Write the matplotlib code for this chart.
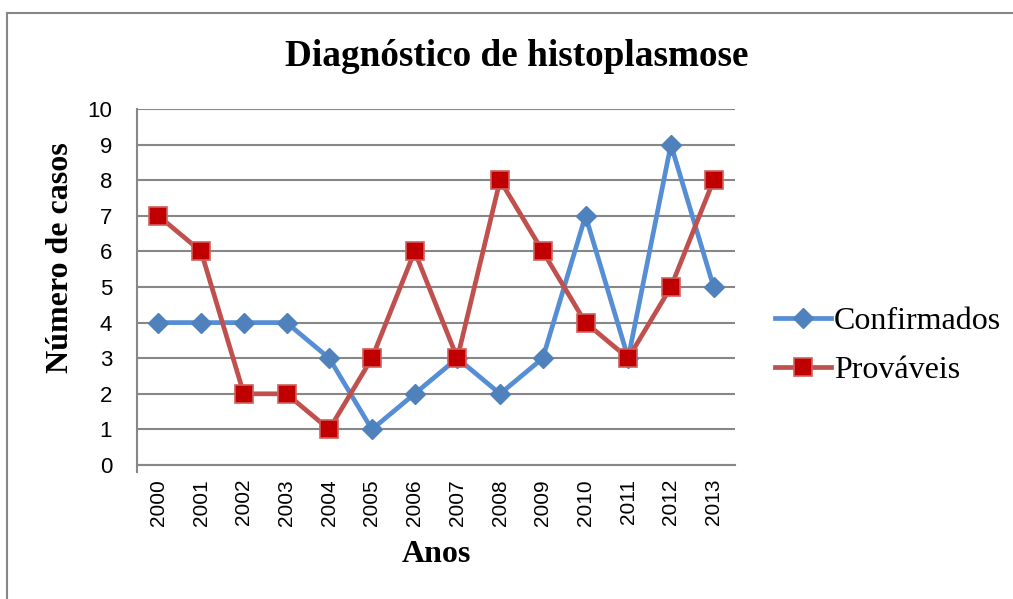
import numpy as np
import matplotlib
matplotlib.use("Agg")
from matplotlib import pyplot as plt
from matplotlib.lines import Line2D

anos = ['2000', '2001', '2002', '2003', '2004', '2005', '2006',
        '2007', '2008', '2009', '2010', '2011', '2012', '2013']
confirmados = [4, 4, 4, 4, 3, 1, 2, 3, 2, 3, 7, 3, 9, 5]
provaveis = [7, 6, 2, 2, 1, 3, 6, 3, 8, 6, 4, 3, 5, 8]

serif = 'Liberation Serif'
sans = 'Liberation Sans'
grid_col = '#878787'

fig = plt.figure(figsize=(10.13, 5.99), dpi=100)
ax = fig.add_axes([137/1013, 1-465/599, 598/1013, 356/599])

x = np.arange(len(anos))
ax.plot(x, confirmados, color='#558ED5', lw=3.4, marker='D', markersize=10.5,
        markerfacecolor='#4F81BD', markeredgecolor='#4F81BD', label='Confirmados', zorder=3)
ax.plot(x, provaveis, color='#C0504D', lw=3.4, marker='s', markersize=13.5,
        markerfacecolor='#C00000', markeredgecolor='#D0605D', markeredgewidth=1.2,
        label='Prováveis', zorder=4)

ax.set_xlim(-0.5, len(anos) - 0.5)
ax.set_ylim(0, 10)
ax.set_yticks(range(0, 11))
ax.set_xticks(x)
ax.set_xticklabels(anos, rotation=90, fontfamily=sans, fontsize=15)
for lbl in ax.get_yticklabels():
    lbl.set_fontfamily(sans)
    lbl.set_fontsize(16)
ax.tick_params(axis='y', length=0, pad=18)
ax.tick_params(axis='x', length=0, pad=10)

ax.grid(axis='y', color=grid_col, lw=1.5)
ax.set_axisbelow(True)
for s in ['top', 'right']:
    ax.spines[s].set_visible(False)
for s in ['left', 'bottom']:
    ax.spines[s].set_color(grid_col)
    ax.spines[s].set_linewidth(1.5)
ax.spines['left'].set_bounds(-0.2, 10)

fig.text(60/1013, 1-258/599, 'Número de casos', fontfamily=serif, fontweight='bold',
         fontsize=23, rotation=90, ha='center', va='center')
fig.text(436/1013, 1-555/599, 'Anos', fontfamily=serif, fontweight='bold',
         fontsize=23, ha='center', va='center')
fig.text(517/1013, 1-57/599, 'Diagnóstico de histoplasmose', fontfamily=serif,
         fontweight='bold', fontsize=26.8, ha='center', va='center')

ax.legend(loc='center left', bbox_to_anchor=(775/1013, 1-346/599), bbox_transform=fig.transFigure,
          frameon=False, prop={'family': serif, 'size': 23}, handlelength=1.75,
          handletextpad=0.1, labelspacing=0.6, borderpad=0, borderaxespad=0)

# chart frame
fig.add_artist(Line2D([7/1013, 1.0], [1-13/599, 1-13/599], color=grid_col, lw=1.5))
fig.add_artist(Line2D([7/1013, 7/1013], [0, 1-13/599], color=grid_col, lw=1.5))

fig.savefig('out.png', dpi=100)
